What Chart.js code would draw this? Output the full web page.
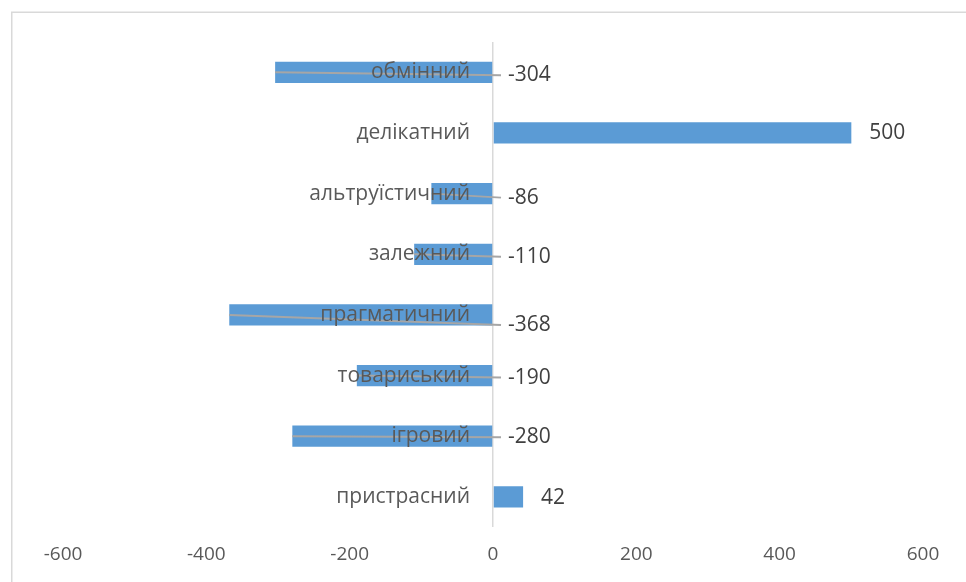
<!DOCTYPE html>
<html>
<head>
<meta charset="utf-8">
<script src="https://cdn.jsdelivr.net/npm/chart.js@4"></script>
<style>
  body { margin: 0; background: #fff; }
  canvas { display: block; }
</style>
</head>
<body>
<canvas id="bar-chart" width="966" height="582"></canvas>
<script>
// Categories, top to bottom, and their scores
const categories = ['обмінний', 'делікатний', 'альтруїстичний', 'залежний', 'прагматичний', 'товариський', 'ігровий', 'пристрасний'];
const scores = [-304, 500, -86, -110, -368, -190, -280, 42];
const tickValues = [-600, -400, -200, 0, 200, 400, 600];

// Small vertical nudges for the value labels (px)
const labelShiftY = [3, 0, 4, 2.5, 10, 2, 1, 1];

const fontFamily = '"Open Sans", "Noto Sans", sans-serif';
const labelFont = '21px ' + fontFamily;

// Frame around the whole chart
const framePlugin = {
    id: 'frame',
    beforeDraw(chart) {
        const ctx = chart.ctx;
        ctx.save();
        ctx.fillStyle = '#fff';
        ctx.fillRect(0, 0, chart.width, chart.height);
        ctx.strokeStyle = '#d9d9d9';
        ctx.lineWidth = 1.5;
        ctx.strokeRect(11.75, 12.25, 980, 620);
        ctx.restore();
    }
};

// Category names next to the zero line and value labels with leader lines
const labelsPlugin = {
    id: 'barLabels',
    afterDatasetsDraw(chart) {
        const ctx = chart.ctx;
        const x = chart.scales.x;
        const y = chart.scales.y;
        const zero = x.getPixelForValue(0);
        ctx.save();
        ctx.font = labelFont;
        ctx.textBaseline = 'middle';

        categories.forEach((name, i) => {
            const cy = y.getPixelForValue(i);
            const v = scores[i];
            const end = x.getPixelForValue(v);
            const ly = cy + labelShiftY[i];
            let lx;
            if (v < 0) {
                lx = zero + 15;
                ctx.strokeStyle = '#a6a6a6';
                ctx.lineWidth = 2;
                ctx.beginPath();
                ctx.moveTo(end, cy);
                ctx.lineTo(lx - 7, ly);
                ctx.stroke();
            } else {
                lx = end + 18;
            }

            ctx.fillStyle = '#595959';
            ctx.textAlign = 'right';
            ctx.fillText(name, zero - 23, cy);

            ctx.fillStyle = '#404040';
            ctx.textAlign = 'left';
            ctx.fillText(String(v), lx, ly);
        });
        ctx.restore();
    }
};

const ctx = document.getElementById('bar-chart').getContext('2d');
new Chart(ctx, {
    type: 'bar',
    data: {
        labels: categories,
        datasets: [{
            data: scores,
            backgroundColor: '#5b9bd5',
            borderWidth: 0,
            categoryPercentage: 1,
            barPercentage: 0.35
        }]
    },
    options: {
        indexAxis: 'y',
        responsive: false,
        animation: false,
        layout: {
            padding: { left: 63, right: 43, top: 42, bottom: 0 }
        },
        plugins: {
            legend: { display: false },
            tooltip: { enabled: false }
        },
        scales: {
            x: {
                min: -600,
                max: 600,
                afterBuildTicks(axis) {
                    axis.ticks = tickValues.map(v => ({ value: v }));
                },
                grid: {
                    drawTicks: false,
                    color: c => (c.tick && c.tick.value === 0) ? '#d9d9d9' : 'rgba(0,0,0,0)',
                    lineWidth: 1.5
                },
                border: { display: false },
                ticks: {
                    padding: 16,
                    color: '#595959',
                    font: { family: fontFamily, size: 19 },
                    maxRotation: 0
                }
            },
            y: {
                display: false
            }
        }
    },
    plugins: [framePlugin, labelsPlugin]
});
</script>
</body>
</html>
